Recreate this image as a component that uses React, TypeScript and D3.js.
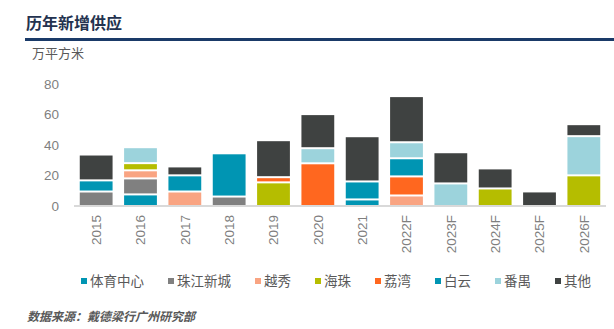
import React from "react";
import * as d3 from "d3";

const years = ["2015", "2016", "2017", "2018", "2019", "2020", "2021", "2022F", "2023F", "2024F", "2025F", "2026F"];
const seriesNames = ["体育中心", "珠江新城", "越秀", "海珠", "荔湾", "白云", "番禺", "其他"];
const seriesColors = ["#0095B3", "#808080", "#F9A482", "#B5BD00", "#FF671F", "#0095B3", "#9CD3DC", "#3F4241"];

const tiyu = [0, 7.6, 0, 0, 0, 0, 4.3, 0, 0, 0, 0, 0];
const zhujiang = [9.5, 10.5, 0, 6.2, 0, 0, 0, 0, 0, 0, 0, 0];
const yuexiu = [0, 5.3, 9.5, 0, 0, 0, 0, 6.9, 0, 0, 0, 0];
const haizhu = [0, 4.7, 0, 0, 15.5, 0, 0, 0, 0, 11.5, 0, 20.1];
const liwan = [0, 0, 0, 0, 3.4, 28, 0, 12.5, 0, 0, 0, 0];
const baiyun = [7.3, 0, 10.6, 27.7, 0, 0, 11.8, 11.9, 0, 0, 0, 0];
const panyu = [0, 9.8, 0, 0, 0, 9.9, 0, 10.5, 14.8, 0, 0, 25.7];
const qita = [16.3, 0, 5.2, 0, 23.6, 21.7, 29, 29.6, 19.8, 12.5, 8.9, 7.2];
const yTicks = [0, 20, 40, 60, 80];

const seriesValues = [tiyu, zhujiang, yuexiu, haizhu, liwan, baiyun, panyu, qita];

const CJK = '"Noto Sans CJK SC", "Noto Sans", sans-serif';
const NUM = '"Liberation Sans", Arial, sans-serif';

export default function App() {
  const W = 614, H = 329;
  const x = d3.scaleBand<string>().domain(years).range([74, 606]).paddingInner(0.26).paddingOuter(0.13);
  const y = d3.scaleLinear().domain([0, 80]).range([206, 84]);

  const rows = years.map((yr, i) => {
    const r: any = { year: yr };
    seriesNames.forEach((s, k) => (r[s] = seriesValues[k][i]));
    return r;
  });
  const stacked = d3.stack<any>().keys(seriesNames)(rows);

  // top index per year
  const topIdx = years.map((_, i) => {
    let t = -1;
    seriesValues.forEach((v, k) => { if (v[i] > 0) t = k; });
    return t;
  });

  // legend layout
  const legFont = 13.5;
  let lx = 81;
  const legend = seriesNames.map((n, k) => {
    const item = { n, x: lx, c: seriesColors[k] };
    lx = lx + 9 + n.length * legFont + 24;
    return item;
  });

  return (
    <svg width={W} height={H} style={{ position: "absolute", left: 0, top: 0, background: "#fff" }}>
      <text x={26} y={29} fontFamily={CJK} fontSize={16} fontWeight="bold" fill="#23324f">历年新增供应</text>
      <rect x={25} y={38} width={589} height={3} fill="#1a3a68" />
      <text x={32} y={58} fontFamily={CJK} fontSize={13} fill="#595959">万平方米</text>

      {yTicks.map((t) => (
        <text key={t} x={59} y={y(t)} dy="0.36em" textAnchor="end" fontFamily={NUM} fontSize={13.5} fill="#7f7f7f">{t}</text>
      ))}

      {stacked.map((layer, k) => (
        <g key={seriesNames[k]} fill={seriesColors[k]}>
          {layer.map((d, i) => {
            const v = d[1] - d[0];
            if (v <= 0) return null;
            const top = y(d[1]) + (topIdx[i] === k ? 0 : 1);
            const bottom = d[0] > 0 ? y(d[0]) - 1 : y(0);
            return <rect key={i} x={x(years[i])} y={top} width={x.bandwidth()} height={Math.max(0, bottom - top)} />;
          })}
        </g>
      ))}

      <line x1={74} x2={606} y1={206} y2={206} stroke="#d9d9d9" strokeWidth={2} />

      {years.map((yr) => {
        const cx = (x(yr) as number) + x.bandwidth() / 2;
        return (
          <text key={yr} transform={`translate(${cx},215) rotate(-90)`} textAnchor="end" dy="0.36em" fontFamily={NUM} fontSize={13.5} fill="#7f7f7f">{yr}</text>
        );
      })}

      {legend.map((l) => (
        <g key={l.n}>
          <rect x={l.x} y={278} width={6} height={6} fill={l.c} />
          <text x={l.x + 9} y={281} dy="0.36em" fontFamily={CJK} fontSize={legFont} fill="#595959">{l.n}</text>
        </g>
      ))}

      <text x={27} y={321} fontFamily={CJK} fontSize={12} fontStyle="italic" fontWeight="bold" fill="#595959">数据来源：戴德梁行广州研究部</text>
    </svg>
  );
}
